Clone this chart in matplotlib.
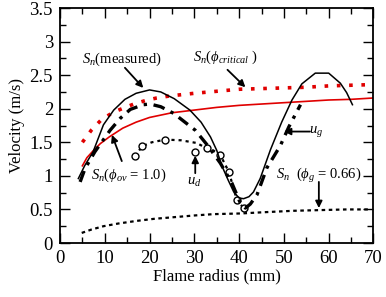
import matplotlib
matplotlib.use("Agg")
import matplotlib.pyplot as plt
from matplotlib.ticker import MultipleLocator

plt.rcParams['font.family'] = ['Liberation Serif', 'DejaVu Serif']
plt.rcParams['mathtext.fontset'] = 'custom'
plt.rcParams['mathtext.rm'] = 'Liberation Serif'
plt.rcParams['mathtext.it'] = 'Liberation Serif:italic'

# S_n (measured) - black solid
meas_x = [4.1, 5.5, 7.4, 9.7, 12.0, 14.5, 17.0, 20.0, 22.5, 25.5, 29.0, 31.5, 33.6, 35.0, 36.2, 37.6, 38.8, 40.0, 41.0, 42.2, 43.2, 44.7, 47.0, 49.5, 51.8, 54.0, 57.0, 60.0, 62.6, 64.0, 65.3]
meas_y = [0.96, 1.15, 1.36, 1.76, 1.98, 2.14, 2.23, 2.28, 2.25, 2.15, 1.98, 1.80, 1.58, 1.38, 1.14, 0.93, 0.76, 0.67, 0.66, 0.69, 0.76, 0.96, 1.39, 1.80, 2.13, 2.37, 2.53, 2.53, 2.38, 2.24, 2.06]

# S_n (phi_critical) - red dotted
crit_x = [5.0, 7.0, 9.3, 12.0, 14.2, 16.5, 19.0, 21.6, 24.5, 30.0, 35.0, 40.0, 45.0, 50.0, 55.0, 60.0, 65.0, 70.0]
crit_y = [1.50, 1.68, 1.84, 1.95, 2.01, 2.07, 2.12, 2.16, 2.19, 2.23, 2.26, 2.29, 2.30, 2.31, 2.32, 2.34, 2.35, 2.36]

# S_n (phi_ov = 1.0) - red solid
ov_x = [5.0, 6.0, 7.5, 9.0, 11.0, 14.0, 17.0, 20.0, 25.0, 30.0, 35.0, 40.0, 45.0, 50.0, 55.0, 60.0, 65.0, 70.0]
ov_y = [1.15, 1.27, 1.38, 1.48, 1.58, 1.71, 1.80, 1.87, 1.94, 1.98, 2.02, 2.05, 2.07, 2.09, 2.11, 2.13, 2.14, 2.16]

# u_g - black dash-dot
ug_x = [4.5, 5.6, 7.8, 11.2, 13.5, 15.7, 18.6, 20.1, 22.5, 25.4, 30.2, 33.0, 35.8, 38.4, 40.3, 41.4, 42.5, 44.0, 46.2, 49.2, 51.1, 53.7]
ug_y = [0.91, 1.11, 1.36, 1.68, 1.86, 1.99, 2.06, 2.07, 2.03, 1.93, 1.68, 1.45, 1.19, 0.89, 0.59, 0.52, 0.58, 0.72, 1.12, 1.45, 1.73, 2.06]

# u_d - dotted line with open circles
ud_x = [16.8, 18.3, 20.5, 23.5, 27.0, 30.5, 32.8, 34.2, 35.8, 37.7, 39.5, 41.0]
ud_y = [1.29, 1.44, 1.50, 1.54, 1.53, 1.49, 1.41, 1.38, 1.31, 1.06, 0.64, 0.52]
udc_x = [16.8, 18.3, 23.5, 30.2, 32.8, 35.8, 37.7, 39.5, 41.0]
udc_y = [1.29, 1.44, 1.54, 1.35, 1.41, 1.31, 1.06, 0.64, 0.52]

# S_n (phi_g = 0.66) - black dotted
g_x = [4.85, 7.0, 9.7, 13.0, 17.2, 21.0, 24.6, 30.0, 34.3, 40.3, 46.0, 52.2, 58.0, 64.0, 69.4]
g_y = [0.15, 0.20, 0.25, 0.29, 0.33, 0.36, 0.38, 0.41, 0.43, 0.44, 0.46, 0.48, 0.49, 0.50, 0.50]

fig = plt.figure(figsize=(3.86, 2.97), dpi=100)
ax = fig.add_axes([0.1554, 0.1818, 0.8122, 0.7912])

ax.plot(g_x, g_y, color='black', lw=1.6, linestyle=(0, (1.6, 1.6)))
ax.plot(crit_x, crit_y, color='#e00000', lw=2.6, linestyle=(0, (1.0, 2.4)))
ax.plot(ov_x, ov_y, color='#e00000', lw=1.2)
ax.plot(ud_x, ud_y, color='black', lw=1.6, linestyle=(0, (1.4, 1.8)))
ax.plot(udc_x, udc_y, linestyle='none', marker='o', ms=5, mfc='white', mec='black', mew=1.0)
ax.plot(ug_x, ug_y, color='black', lw=2.4, linestyle=(0, (3.5, 2.0, 1.0, 2.0)))
ax.plot(meas_x, meas_y, color='black', lw=1.1)

ax.set_xlim(0, 70)
ax.set_ylim(0, 3.5)
ax.xaxis.set_major_locator(MultipleLocator(10))
ax.xaxis.set_minor_locator(MultipleLocator(5))
ax.yaxis.set_major_locator(MultipleLocator(0.5))
ax.yaxis.set_minor_locator(MultipleLocator(0.25))
ax.set_yticks([0, 0.5, 1, 1.5, 2, 2.5, 3, 3.5])
ax.set_yticklabels(['0', '0.5', '1', '1.5', '2', '2.5', '3', '3.5'])
ax.tick_params(which='both', direction='in', top=True, right=True, labelsize=13.5, width=1.0)
ax.tick_params(which='major', length=7, pad=5)
ax.tick_params(which='minor', length=4)
for s in ax.spines.values():
    s.set_linewidth(1.3)

ax.set_xlabel('Flame radius (mm)', fontsize=12, labelpad=1)
ax.set_ylabel('Velocity (m/s)', fontsize=12, labelpad=3)

arrowp = dict(arrowstyle='-|>', color='black', lw=1.3, mutation_scale=10, shrinkA=0, shrinkB=0)
fs = 10.5
ax.annotate('', xy=(18.6, 2.31), xytext=(14.5, 2.61), arrowprops=arrowp)
ax.text(13.9, 2.73, r'$S_n$(measured)', ha='center', va='center', fontsize=fs)
ax.annotate('', xy=(41.4, 2.32), xytext=(37.4, 2.58), arrowprops=arrowp)
ax.text(36.9, 2.76, r'$S_n$($\phi_{critical}$ )', ha='center', va='center', fontsize=fs)
ax.annotate('', xy=(11.6, 1.61), xytext=(13.8, 1.22), arrowprops=arrowp)
ax.text(15.4, 1.01, r'$S_n$($\phi_{ov}$ = 1.0)', ha='center', va='center', fontsize=fs)
ax.annotate('', xy=(30.2, 1.30), xytext=(30.2, 1.04), arrowprops=arrowp)
ax.text(29.9, 0.90, r'$u_d$', ha='center', va='center', fontsize=fs)
ax.annotate('', xy=(50.0, 1.66), xytext=(55.8, 1.66), arrowprops=arrowp)
ax.text(57.2, 1.66, r'$u_g$', ha='center', va='center', fontsize=fs)
ax.annotate('', xy=(57.8, 0.52), xytext=(57.8, 0.91), arrowprops=arrowp)
ax.text(57.7, 1.01, r'$S_n$  ($\phi_g$ = 0.66)', ha='center', va='center', fontsize=fs)

fig.savefig('out.png', dpi=100)
